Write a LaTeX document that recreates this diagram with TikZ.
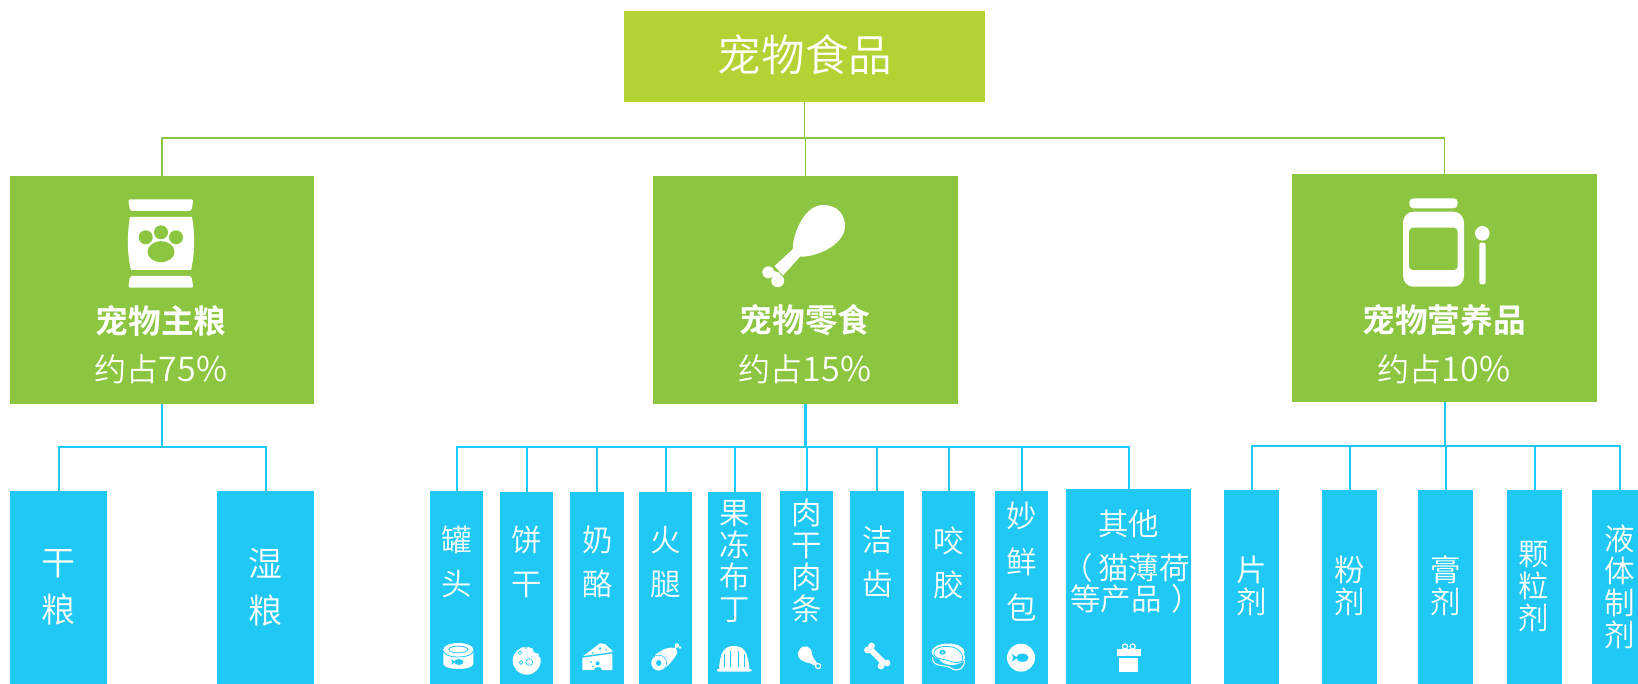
\documentclass[tikz,border=0pt]{standalone}
\usepackage{fontspec}
\newfontfamily\cjklt{Noto Sans CJK SC DemiLight}
\newfontfamily\cjkbd{Noto Sans CJK SC Bold}
\definecolor{topg}{HTML}{B3D334}
\definecolor{catg}{HTML}{8CC540}
\definecolor{leafb}{HTML}{1FC8F5}
\tikzset{
  rootbox/.style={fill=topg,draw=none,inner sep=0pt},
  catbox/.style={fill=catg,draw=none,inner sep=0pt},
  leafbox/.style={fill=leafb,draw=none,inner sep=0pt},
  gline/.style={draw=catg,line width=1.1pt},
  bline/.style={draw=leafb,line width=1.5pt},
  wt/.style={text=white,inner sep=0pt,align=center},
}
\newcommand{\pbox}[6]{%
  \pgfmathsetmacro\pw{(#4-#2)*0.75}\pgfmathsetmacro\ph{(#5-#3)*0.75}%
  \pgfmathsetmacro\pcx{(#2+#4)/2}\pgfmathsetmacro\pcy{(#3+#5)/2}%
  \node[#6,minimum width=\pw pt,minimum height=\ph pt] (#1) at (\pcx,\pcy) {};}
% name x y fontpx pitchpx text
\newcommand{\ltx}[6]{%
  \pgfmathsetmacro\pfs{#4*0.75}\pgfmathsetmacro\pbs{#5*0.75}%
  \node[wt,font=\cjklt\fontsize{\pfs pt}{\pbs pt}\selectfont] (#1) at (#2,#3) {#6};}
\newcommand{\fishicon}[4]{%
  \begin{scope}[shift={(#1,#2)},scale=#3]
    \fill[#4] (1.5,0) ellipse (5 and 3.3);
    \fill[#4] (-2.5,0) -- (-7,-3.2) -- (-5.8,0) -- (-7,3.2) -- cycle;
  \end{scope}}
\newcommand{\digs}[1]{{\fontsize{25.5pt}{27pt}\selectfont #1}}
\begin{document}
\begin{tikzpicture}[x=0.75pt,y=-0.75pt]
\useasboundingbox (0,0) rectangle (1638,684);
\clip (0,0) rectangle (1638,684);

% boxes
\pbox{root}{624}{11}{985}{102}{rootbox}
\pbox{c1}{10}{176}{314}{404}{catbox}
\pbox{c2}{653}{176}{958}{404}{catbox}
\pbox{c3}{1292}{174}{1597}{402}{catbox}

\pbox{a1}{10}{491}{107}{684}{leafbox}
\pbox{a2}{217}{491}{314}{684}{leafbox}

\pbox{b1}{430}{491}{483}{684}{leafbox}
\pbox{b2}{500}{492}{553}{684}{leafbox}
\pbox{b3}{570}{492}{624}{684}{leafbox}
\pbox{b4}{639}{492}{692}{684}{leafbox}
\pbox{b5}{708}{492}{761}{684}{leafbox}
\pbox{b6}{780}{491}{833}{684}{leafbox}
\pbox{b7}{850}{491}{904}{684}{leafbox}
\pbox{b8}{922}{491}{975}{684}{leafbox}
\pbox{b9}{995}{491}{1048}{684}{leafbox}
\pbox{b10}{1066}{489}{1191}{684}{leafbox}

\pbox{d1}{1224}{490}{1279}{684}{leafbox}
\pbox{d2}{1322}{490}{1377}{684}{leafbox}
\pbox{d3}{1418}{490}{1473}{684}{leafbox}
\pbox{d4}{1507}{490}{1562}{684}{leafbox}
\pbox{d5}{1592}{490}{1648}{684}{leafbox}

% connectors
\coordinate (busr) at (805,138);
\coordinate (busa) at (162,447);
\coordinate (busb) at (805,447);
\coordinate (busd) at (1445,446);
\draw[gline] (root.south) -- (root.south |- busr) -| (c1.north);
\draw[gline] (root.south) -- (root.south |- busr) -| (c3.north);
\draw[gline] (root.south) -- (root.south |- busr) -| (c2.north);
\foreach \n in {a1,a2} \draw[bline] (c1.south) -- (c1.south |- busa) -| (\n.north);
\foreach \n in {b1,b2,b3,b4,b5,b6,b7,b8,b9,b10} \draw[bline] (c2.south) -- (c2.south |- busb) -| (\n.north);
\draw[bline,line width=2.2pt] (c2.south) -- (c2.south |- busb);
\foreach \n in {d1,d2,d3,d4,d5} \draw[bline] (c3.south) -- (c3.south |- busd) -| (\n.north);

% texts
\node[wt,font=\cjklt\fontsize{32.7pt}{36pt}\selectfont] (troot) at (805,55) {宠物食品};
\node[wt,font=\cjkbd\fontsize{24.5pt}{28pt}\selectfont] (t1a) at (161,321) {宠物主粮};
\node[wt,font=\cjkbd\fontsize{24.5pt}{28pt}\selectfont] (t2a) at (805,320) {宠物零食};
\node[wt,font=\cjkbd\fontsize{24.5pt}{28pt}\selectfont] (t3a) at (1444,320) {宠物营养品};
\ltx{t1b}{161}{369}{32}{36}{约占\digs{75\%}}
\ltx{t2b}{805}{369}{32}{36}{约占\digs{15\%}}
\ltx{t3b}{1444}{369}{32}{36}{约占\digs{10\%}}

\ltx{ta1}{58}{587}{34}{47}{干\\粮}
\ltx{ta2}{265}{587}{34}{47}{湿\\粮}

\ltx{tb1}{457}{562}{30.5}{44}{罐\\头}
\ltx{tb2}{527}{562}{30.5}{44}{饼\\干}
\ltx{tb3}{597.5}{562}{30.5}{44}{奶\\酪}
\ltx{tb4}{666}{562}{30.5}{44}{火\\腿}
\ltx{tb5}{735}{562}{30.5}{32}{果\\冻\\布\\丁}
\ltx{tb6}{806.5}{561}{30.5}{32}{肉\\干\\肉\\条}
\ltx{tb7}{877.5}{562}{30.5}{44}{洁\\齿}
\ltx{tb8}{948.5}{563}{30.5}{44}{咬\\胶}
\ltx{tb9}{1021.5}{562}{30.5}{46}{妙\\鲜\\包}
\ltx{tb10a}{1128.5}{524}{30.5}{32}{其他}
\ltx{tb10b}{1126}{568}{30.5}{32}{（\kern0.18em 猫薄荷}
\ltx{tb10c}{1136}{599}{30.5}{32}{等产品\kern0.31em ）}

\ltx{td1}{1251.5}{586}{30.5}{32}{片\\剂}
\ltx{td2}{1349.5}{586}{30.5}{32}{粉\\剂}
\ltx{td3}{1445.5}{586}{30.5}{32}{膏\\剂}
\ltx{td4}{1534}{587}{30.5}{32}{颗\\粒\\剂}
\ltx{td5}{1620}{587}{30.5}{32}{液\\体\\制\\剂}

% ---- large icons ----
% bag
\fill[white,rounded corners=1.5pt] (128.3,199.3) -- (193.3,199.3) -- (191.5,211) -- (130,211) -- cycle;
\fill[white,rounded corners=1.5pt] (130,276) -- (191.5,276) -- (193.3,287.7) -- (128.3,287.7) -- cycle;
\fill[white] (130,217) .. controls (127,233) and (127,254) .. (131,270) -- (191,270) .. controls (195,254) and (195,233) .. (192,217) -- cycle;
\fill[catg] (145.7,237.3) circle (7);
\fill[catg] (161,232.3) circle (7);
\fill[catg] (176,237.3) circle (7);
\fill[catg] (161,251.7) ellipse (13.5 and 10.5);
% drumstick
\fill[white] (792.7,249.3) .. controls (793,232) and (805,205) .. (823,205) .. controls (838,205) and (845,215) .. (845,226) .. controls (845,243) and (820,257) .. (800,256.7) -- (783,275.5) -- (774.5,266) -- cycle;
\fill[white] (768.3,272.3) circle (6);
\fill[white] (777.7,280.7) circle (6.5);
\fill[white] (771,270) -- (780,273) -- (780,282) -- (771,275) -- cycle;
% jar
\fill[white,rounded corners=3pt] (1409.3,208.3) -- (1409.3,198.3) -- (1457.7,198.3) -- (1457.7,208.3) -- cycle;
\fill[white,rounded corners=8pt] (1403,286.7) -- (1403,211.7) -- (1464,211.7) -- (1464,286.7) -- cycle;
\fill[catg,rounded corners=3pt] (1409,227.7) rectangle (1457.7,270);
\fill[white] (1482.3,233.3) circle (7.3);
\fill[white,rounded corners=1.5pt] (1479.3,242.7) rectangle (1485.7,284.3);

% ---- small icons ----
% can
\fill[white] (443.3,650) -- (443.3,664) arc[start angle=180,end angle=0,x radius=15,y radius=5] -- (473.3,650) -- cycle;
\fill[white] (458.3,649.5) ellipse (15 and 6.5);
\draw[leafb,line width=0.6pt] (458.3,649.5) ellipse (9.5 and 3.4);
\draw[leafb,line width=0.6pt] (443.3,651) arc[start angle=180,end angle=0,x radius=15,y radius=6];
\fishicon{457.5}{662}{0.9}{leafb}
% cookie
\fill[white] (526.7,660.7) circle (14);
\fill[leafb] (537.5,648.5) circle (5);
\fill[leafb] (541,655) circle (2.5);
\fill[leafb] (531,645.5) circle (2.5);
\draw[leafb,line width=0.5pt] (529.3,662) circle (3.4);
\draw[leafb,line width=0.5pt] (521,662.5) circle (1.8);
\draw[leafb,line width=0.5pt] (520,652.7) circle (1.8);
\draw[leafb,line width=0.5pt] (526,646.7) circle (1.8);
% cheese
\fill[white] (583.3,656) -- (600,643.3) -- (605,644) -- (612.3,650.5) -- (612.3,652) -- cycle;
\fill[white] (582.3,657.8) -- (612.3,653.5) -- (612.3,670) -- (602,670) arc[start angle=0,end angle=-180,x radius=4,y radius=3] -- (582.3,670) -- cycle;
\fill[leafb] (597.7,663.3) circle (2);
\fill[leafb] (591,662) circle (1);
\fill[leafb] (593,666.5) circle (0.9);
\fill[leafb] (600,648.5) circle (1.3);
\fill[leafb] (606,650) circle (0.9);
\fill[leafb] (593,653) circle (0.8);
% ham
\fill[white] (655,655) .. controls (662,650) and (668,646) .. (675,648) .. controls (679,651) and (677,654) .. (675,657) .. controls (670,664) and (666,668) .. (662,670) -- cycle;
\draw[white,line width=1.2pt] (674,650) -- (677,646);
\fill[white] (677,645.5) circle (2.2);
\fill[white] (680,647.5) circle (1.4);
\fill[leafb] (658.7,663) circle (8.2);
\fill[white] (658.7,663) circle (7.5);
\fill[leafb] (658.7,663) ellipse (2.6 and 3);
% jelly
\fill[white] (719,669.5) .. controls (720,652) and (724,646) .. (734,646) .. controls (744,646) and (748,652) .. (749.5,669.5) -- cycle;
\fill[white,rounded corners=1pt] (716.5,669.2) rectangle (752,671.5);
\foreach \x/\h in {724/654,730/651,738/651,744.5/654}
  \draw[leafb,line width=0.6pt] (\x,\h) -- (\x,667);
% small drumstick
\fill[white] (799,650.5) .. controls (803,643) and (812,646) .. (812,654) .. controls (813,658) and (815,660) .. (817,663) -- (814,665.5) .. controls (811,663) and (808,663) .. (805,662) .. controls (799,660) and (796,655) .. (799,650.5) -- cycle;
\draw[white,line width=0.9pt] (818,666) circle (2.6);
% bone
\draw[white,line width=4.5pt] (871,650) -- (884,663);
\foreach \a/\b in {867.5/650,871.5/646,881/666,887/663} \fill[white] (\a,\b) circle (3.4);
% meat
\draw[white,line width=0.8pt] (932.5,657) .. controls (932,668) and (945,664) .. (951,668) .. controls (958,673) and (965,668) .. (964.5,660);
\fill[white] (948,652) ellipse (16.5 and 8.5);
\fill[white] (952,657) ellipse (13 and 8);
\draw[leafb,line width=0.6pt] (934,652) .. controls (936,645.5) and (950,645.5) .. (955,648) .. controls (962,651) and (964,657) .. (962,661) .. controls (958,664) and (952,662) .. (947,660) .. controls (942,659) and (933,659) .. (934,652) -- cycle;
\fill[leafb] (942.5,652.3) ellipse (3.2 and 2.4);
\fill[white] (942.5,652.3) circle (1);
% fish circle
\fill[white] (1021,657.7) circle (14);
\fishicon{1020.5}{657.7}{1.25}{leafb}
% gift
\fill[white] (1117.3,649.3) rectangle (1140.7,655.7);
\fill[white] (1119.3,657.7) rectangle (1138.3,671.7);
\draw[white,line width=0.9pt] (1125,646.5) circle (2.6);
\draw[white,line width=0.9pt] (1132.7,646.5) circle (2.6);
\end{tikzpicture}
\end{document}
